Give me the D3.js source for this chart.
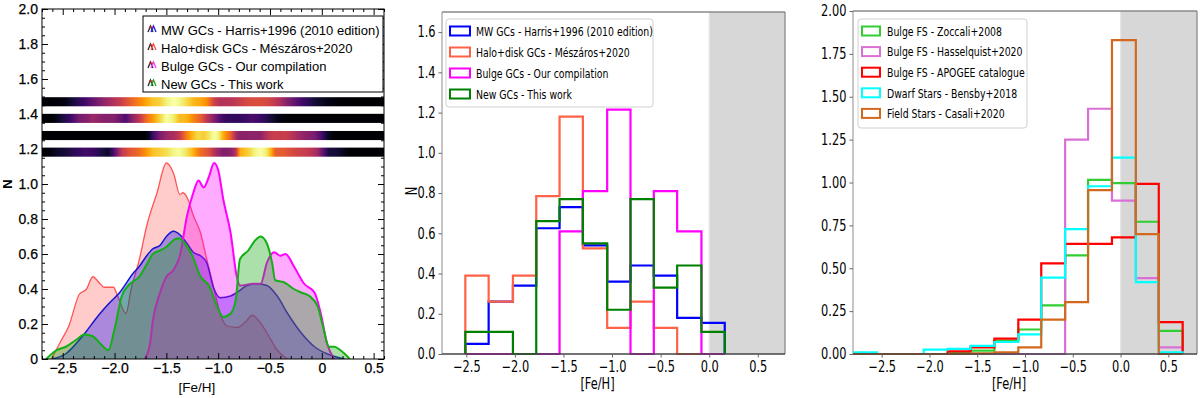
<!DOCTYPE html>
<html><head><meta charset="utf-8">
<script src="https://cdn.jsdelivr.net/npm/d3@7"></script>
<style>body{margin:0;background:#fff;} svg{display:block;}</style>
</head><body><svg id="c" width="1200" height="398"></svg>
<script>
// ---------------- DATA ----------------
// Panel 1: density curves ([Fe/H] sample points and N values)
const haloX = [-2.61,-2.52,-2.44,-2.34,-2.27,-2.21,-2.14,-2.10,-2.01,-1.97,-1.89,-1.84,-1.76,-1.69,-1.59,-1.50,-1.43,-1.37,-1.34,-1.29,-1.24,-1.17,-1.11,-1.04,-0.98,-0.92,-0.82,-0.74,-0.67,-0.61,-0.53,-0.43,-0.33];
const haloY = [0,0.10,0.19,0.37,0.40,0.47,0.43,0.41,0.41,0.36,0.26,0.40,0.57,0.76,0.95,1.12,1.06,0.94,0.95,0.91,0.82,0.72,0.57,0.40,0.26,0.19,0.18,0.21,0.25,0.22,0.15,0.05,0];
const mwX = [-2.60,-2.47,-2.31,-2.14,-2.05,-1.95,-1.82,-1.76,-1.69,-1.63,-1.56,-1.50,-1.43,-1.37,-1.30,-1.24,-1.17,-1.11,-1.04,-0.98,-0.88,-0.82,-0.72,-0.62,-0.53,-0.43,-0.33,-0.20,-0.07,0.05,0.15,0.22];
const mwY = [0,0.03,0.13,0.26,0.32,0.38,0.49,0.53,0.59,0.63,0.65,0.70,0.73,0.71,0.66,0.61,0.59,0.55,0.40,0.35,0.36,0.38,0.42,0.43,0.42,0.36,0.26,0.15,0.07,0.03,0.01,0];
const bulgeX = [-1.71,-1.66,-1.63,-1.56,-1.50,-1.43,-1.37,-1.30,-1.24,-1.19,-1.14,-1.09,-1.04,-1.00,-0.95,-0.88,-0.82,-0.79,-0.66,-0.59,-0.53,-0.46,-0.40,-0.35,-0.27,-0.17,-0.07,-0.01,0.05,0.12];
const bulgeY = [0,0.08,0.22,0.38,0.47,0.51,0.59,0.82,0.95,1.02,0.98,1.04,1.12,1.08,0.91,0.72,0.47,0.42,0.43,0.43,0.55,0.61,0.59,0.60,0.53,0.43,0.38,0.26,0.09,0];
const newX = [-2.66,-2.56,-2.47,-2.37,-2.29,-2.21,-2.14,-2.06,-2.00,-1.93,-1.85,-1.76,-1.69,-1.63,-1.56,-1.50,-1.43,-1.38,-1.32,-1.25,-1.17,-1.09,-1.01,-0.95,-0.88,-0.83,-0.79,-0.71,-0.64,-0.59,-0.53,-0.48,-0.45,-0.37,-0.27,-0.20,-0.12,-0.04,0.01,0.07,0.12,0.18,0.27];
const newY = [0,0.05,0.07,0.11,0.14,0.13,0.09,0.05,0.17,0.36,0.43,0.47,0.54,0.60,0.62,0.64,0.68,0.69,0.66,0.59,0.47,0.42,0.30,0.24,0.26,0.34,0.57,0.62,0.68,0.70,0.66,0.55,0.45,0.44,0.40,0.38,0.36,0.30,0.19,0.07,0.07,0.05,0];
const gcLabels = ["MW GCs - Harris+1996 (2010 edition)","Halo+disk GCs - Mészáros+2020","Bulge GCs - Our compilation","New GCs - This work"];

// Panel 2: GC histograms
const gcEdges = [-2.51,-2.27,-2.02,-1.78,-1.54,-1.30,-1.05,-0.81,-0.57,-0.33,-0.08,0.16];
const mwHist    = [0.05,0.26,0.34,0.625,0.73,0.54,0.36,0.44,0.39,0.18,0.155];
const haloHist  = [0.39,0.26,0.39,0.785,1.18,0.525,0.13,0.26,0.13,0,0];
const bulgeHist = [0,0,0,0,0.61,0.81,1.215,0,0.81,0.61,0];
const newHist   = [0.11,0.11,0,0.66,0.77,0.55,0.22,0.77,0.33,0.44,0.11];

// Panel 3: field-star histograms
const fsEdges = [-2.80,-2.55,-2.31,-2.06,-1.81,-1.57,-1.32,-1.07,-0.83,-0.58,-0.34,-0.09,0.16,0.40,0.65];
const zoccaliHist     = [0,0,0,0,0.005,0.02,0.078,0.143,0.284,0.575,1.015,0.996,0.771,0.135];
const hasselquistHist = [0,0,0,0,0,0,0,0,0,1.25,1.43,0.894,0.442,0.039];
const apogeeHist      = [0,0,0,0,0.015,0.039,0.09,0.2,0.528,0.642,0.642,0.68,0.992,0.186];
const bensbyHist      = [0.01,0,0,0.025,0.03,0.047,0.07,0.115,0.445,0.728,0.978,1.145,0.419,0.01];
const casaliHist      = [0,0,0,0,0,0.004,0.01,0.039,0.2,0.303,0.955,1.83,0.699,0];
const fsLabels = ["Bulge FS - Zoccali+2008","Bulge FS - Hasselquist+2020","Bulge FS - APOGEE catalogue","Dwarf Stars - Bensby+2018","Field Stars - Casali+2020"];

const ticks1X = [-2.5,-2.0,-1.5,-1.0,-0.5,0,0.5];
const ticks1Y = [0,0.2,0.4,0.6,0.8,1.0,1.2,1.4,1.6,1.8,2.0];
const ticks2Y = [0,0.2,0.4,0.6,0.8,1.0,1.2,1.4,1.6];
const ticks3Y = [0,0.25,0.5,0.75,1.0,1.25,1.5,1.75,2.0];

// ---------------- DRAW ----------------
const svg = d3.select("#c");
const defs = svg.append("defs");
const SX = 0.76; // horizontal squeeze of matplotlib panels' text
const mplFont = "'DejaVu Sans', sans-serif";
const idlFont = "'Liberation Sans', Arial, sans-serif";

function stxt(g, x, y, s, size, anchor, sx) {
  return g.append("text").attr("transform", `translate(${x},${y}) scale(${sx},1)`)
    .attr("text-anchor", anchor).attr("font-size", size).attr("font-family", mplFont)
    .attr("fill", "#000").text(s);
}

// ===== Panel 1 =====
const x1 = d3.scaleLinear().domain([-2.7, 0.6]).range([42, 384]);
const y1 = d3.scaleLinear().domain([0, 2]).range([359, 9]);
const p1 = svg.append("g");
defs.append("clipPath").attr("id","clip1").append("rect")
  .attr("x",x1.range()[0]).attr("y",y1.range()[1]).attr("width",x1.range()[1]-x1.range()[0]).attr("height",y1.range()[0]-y1.range()[1]);

const dens = [
  {x: haloX, y: haloY, fill:"#ff3030", fo:0.25, stroke:"#ff5555", sw:1.3},
  {x: mwX, y: mwY, fill:"#0000ff", fo:0.33, stroke:"#1515cc", sw:1.5},
  {x: bulgeX, y: bulgeY, fill:"#ff00ff", fo:0.33, stroke:"#ff00ff", sw:2},
  {x: newX, y: newY, fill:"#00a000", fo:0.33, stroke:"#12b012", sw:2}
];
const area1 = d3.area().x(d=>x1(d[0])).y0(y1(0)).y1(d=>y1(d[1])).curve(d3.curveMonotoneX);
const line1 = d3.line().x(d=>x1(d[0])).y(d=>y1(d[1])).curve(d3.curveMonotoneX);
const cg = p1.append("g").attr("clip-path","url(#clip1)");
dens.forEach(s => {
  const pts = s.x.map((v,i)=>[v, s.y[i]]);
  cg.append("path").attr("d", area1(pts)).attr("fill", s.fill).attr("fill-opacity", s.fo);
  cg.append("path").attr("d", line1(pts)).attr("fill","none").attr("stroke", s.stroke).attr("stroke-width", s.sw);
});

// colour bars (density mapped with inferno), order: MW, Halo, Bulge, New
function interpDens(xs, ys, v) {
  if (v <= xs[0] || v >= xs[xs.length-1]) return 0;
  const i = d3.bisectRight(xs, v);
  const t = (v - xs[i-1]) / (xs[i] - xs[i-1]);
  return ys[i-1] + t*(ys[i]-ys[i-1]);
}
const barSeries = [[mwX,mwY],[haloX,haloY],[bulgeX,bulgeY],[newX,newY]];
const barLevels = [1.47, 1.375, 1.277, 1.182];
barSeries.forEach((s, k) => {
  const mx = d3.max(s[1]);
  const gid = "grad" + k;
  const gr = defs.append("linearGradient").attr("id", gid).attr("gradientUnits","userSpaceOnUse")
    .attr("x1", x1.range()[0]).attr("x2", x1.range()[1]).attr("y1",0).attr("y2",0);
  const n = 200;
  for (let j = 0; j <= n; j++) {
    const v = x1.domain()[0] + (x1.domain()[1]-x1.domain()[0]) * j / n;
    const d = interpDens(s[0], s[1], v) / mx;
    gr.append("stop").attr("offset", (j/n*100)+"%").attr("stop-color", d3.interpolateInferno(Math.min(1, d)));
  }
  p1.append("rect").attr("x", x1.range()[0]).attr("width", x1.range()[1]-x1.range()[0])
    .attr("y", y1(barLevels[k] + 0.026)).attr("height", y1(barLevels[k]-0.026) - y1(barLevels[k]+0.026))
    .attr("fill", `url(#${gid})`);
});

// axes panel 1 (inward ticks, all sides)
const fmt1 = d => d === 0 ? "0" : d3.format(".1f")(d);
const minor1X = d3.range(-27, 7).map(d=>d/10).filter(d => !ticks1X.some(t=>Math.abs(t-d)<1e-6));
const minor1Y = d3.range(0, 41).map(d=>d/20).filter(d => !ticks1Y.some(t=>Math.abs(t-d)<1e-6));
function ax(g, axis) { g.call(axis); g.select(".domain").remove(); g.selectAll("line").attr("stroke","#000"); return g; }
const b1 = ax(p1.append("g").attr("transform",`translate(0,${y1(0)})`), d3.axisBottom(x1).tickValues(ticks1X).tickFormat(fmt1).tickSize(-6).tickPadding(4));
ax(p1.append("g").attr("transform",`translate(0,${y1(0)})`), d3.axisBottom(x1).tickValues(minor1X).tickFormat("").tickSize(-3));
ax(p1.append("g").attr("transform",`translate(0,${y1(2)})`), d3.axisTop(x1).tickValues(ticks1X).tickFormat("").tickSize(-6));
ax(p1.append("g").attr("transform",`translate(0,${y1(2)})`), d3.axisTop(x1).tickValues(minor1X).tickFormat("").tickSize(-3));
const l1 = ax(p1.append("g").attr("transform",`translate(${x1.range()[0]},0)`), d3.axisLeft(y1).tickValues(ticks1Y).tickFormat(fmt1).tickSize(-6).tickPadding(4));
ax(p1.append("g").attr("transform",`translate(${x1.range()[0]},0)`), d3.axisLeft(y1).tickValues(minor1Y).tickFormat("").tickSize(-3));
ax(p1.append("g").attr("transform",`translate(${x1.range()[1]},0)`), d3.axisRight(y1).tickValues(ticks1Y).tickFormat("").tickSize(-6));
ax(p1.append("g").attr("transform",`translate(${x1.range()[1]},0)`), d3.axisRight(y1).tickValues(minor1Y).tickFormat("").tickSize(-3));
[b1, l1].forEach(g => g.selectAll("text").attr("font-family", idlFont).attr("font-size", 14).attr("fill","#000").attr("stroke","#000").attr("stroke-width",0.25));
p1.append("rect").attr("x", x1.range()[0]).attr("y", y1.range()[1]).attr("width", x1.range()[1]-x1.range()[0]).attr("height", y1.range()[0]-y1.range()[1])
  .attr("fill","none").attr("stroke","#000").attr("stroke-width",1);
p1.append("text").attr("x", (x1.range()[0]+x1.range()[1])/2 - 16).attr("y", 392).attr("text-anchor","middle")
  .attr("font-family", idlFont).attr("font-size", 13.5).text("[Fe/H]");
p1.append("text").attr("transform","translate(12,184) rotate(-90)").attr("text-anchor","middle")
  .attr("font-family", idlFont).attr("font-size", 13).attr("font-weight","bold").text("N");

// legend panel 1
const lg1 = p1.append("g");
lg1.append("rect").attr("x",143).attr("y",16).attr("width",240).attr("height",76).attr("fill","#fff").attr("stroke","#000").attr("stroke-width",1);
const iconCols = ["#2020ff","#ff5555","#ff40ff","#20b020"];
gcLabels.forEach((s, i) => {
  const cy = 30 + i*18;
  const ig = lg1.append("g").attr("transform",`translate(148,${cy-4})`);
  ig.append("path").attr("d","M0,6 L2.5,0 L5,6").attr("fill","none").attr("stroke","#333").attr("stroke-width",1.4);
  ig.append("path").attr("d","M3,6 L5.5,0 L8,6").attr("fill","none").attr("stroke",iconCols[i]).attr("stroke-width",1.4);
  ig.append("path").attr("d","M1,1 L5,1").attr("stroke","#e03030").attr("stroke-width",1.2);
  lg1.append("text").attr("x",161).attr("y",cy+5).attr("font-family", idlFont).attr("font-size",13).text(s);
});

// ===== Histogram panels =====
function stepPath(edges, vals, x, y) {
  const p = d3.path();
  p.moveTo(x(edges[0]), y(0));
  vals.forEach((v,i) => { p.lineTo(x(edges[i]), y(v)); p.lineTo(x(edges[i+1]), y(v)); });
  p.lineTo(x(edges[edges.length-1]), y(0));
  return p.toString();
}
function histPanel(opt) {
  const {x, y, edges, series, yTicks, yFmt, id, legend, showN} = opt;
  const g = svg.append("g");
  const [xl, xr] = x.range(); const [yb, yt] = y.range();
  defs.append("clipPath").attr("id", id).append("rect").attr("x", xl).attr("y", yt - 2).attr("width", xr - xl).attr("height", yb - yt + 4);
  g.append("rect").attr("x", x(0)).attr("y", yt).attr("width", xr - x(0)).attr("height", yb - yt).attr("fill", "#d7d7d7");
  g.append("line").attr("x1", x(0)).attr("x2", x(0)).attr("y1", yt).attr("y2", yb).attr("stroke", "#e6e6e6").attr("stroke-width", 1.2);
  const hg = g.append("g").attr("clip-path", `url(#${id})`);
  series.forEach(s => {
    hg.append("path").attr("d", stepPath(edges, s.v, x, y)).attr("fill","none").attr("stroke", s.c).attr("stroke-width", 2.2).attr("stroke-linejoin","miter");
  });
  // spines
  g.append("line").attr("x1",xl).attr("x2",xl).attr("y1",yt).attr("y2",yb).attr("stroke","#a8a8a8").attr("stroke-width",1.3);
  g.append("line").attr("x1",xr).attr("x2",xr).attr("y1",yt).attr("y2",yb).attr("stroke","#8a8a8a").attr("stroke-width",1.3);
  g.append("line").attr("x1",xl).attr("x2",xr).attr("y1",yt).attr("y2",yt).attr("stroke","#8a8a8a").attr("stroke-width",1.3);
  g.append("line").attr("x1",xl).attr("x2",xr).attr("y1",yb).attr("y2",yb).attr("stroke","#444").attr("stroke-width",1.3);
  // axes
  const bx = g.append("g").attr("transform",`translate(0,${yb})`).call(d3.axisBottom(x).tickValues([-2.5,-2.0,-1.5,-1.0,-0.5,0,0.5]).tickFormat(d3.format(".1f")).tickSize(3.5).tickPadding(4));
  const ly = g.append("g").attr("transform",`translate(${xl},0)`).call(d3.axisLeft(y).tickValues(yTicks).tickFormat(yFmt).tickSize(3.5).tickPadding(3));
  [bx, ly].forEach(a => { a.select(".domain").remove(); a.selectAll("line").attr("stroke","#666");
    a.selectAll("text").attr("font-family", mplFont).attr("font-size", 15).attr("fill","#000")
      .attr("transform", `scale(${SX},1)`).attr("x", function(){ return (+this.getAttribute("x") || 0) / SX; }); });
  stxt(g, (xl + xr)/2 - 16, 389, "[Fe/H]", 15, "middle", SX);
  if (showN) g.append("text").attr("transform", `translate(${xl-25},191) rotate(-90) scale(${SX},1)`).attr("text-anchor","middle")
      .attr("font-family", mplFont).attr("font-size", 15).text("N");
  // legend
  const L = legend;
  g.append("rect").attr("x", L.x).attr("y", L.y).attr("width", L.w).attr("height", L.h).attr("rx", 3)
    .attr("fill","#fff").attr("fill-opacity",0.85).attr("stroke","#d0d0d0").attr("stroke-width",1);
  series.forEach((s, i) => {
    const cy = L.y + 12 + i * L.step;
    g.append("rect").attr("x", L.x + 4).attr("y", cy - 4.5).attr("width", L.pw).attr("height", 9)
      .attr("fill","none").attr("stroke", s.c).attr("stroke-width", 2);
    stxt(g, L.x + L.tx, cy + 4.8, s.label, 13, "start", 0.72);
  });
}

const x2 = d3.scaleLinear().domain([-2.75, 0.78]).range([442, 785]);
const y2 = d3.scaleLinear().domain([0, 1.7]).range([354, 12]);
histPanel({x: x2, y: y2, edges: gcEdges, id: "clip2", showN: true,
  yTicks: ticks2Y, yFmt: d3.format(".1f"),
  series: [
    {v: mwHist, c: "#0000ff", label: gcLabels[0]},
    {v: haloHist, c: "#ff6347", label: gcLabels[1]},
    {v: bulgeHist, c: "#ff00ff", label: gcLabels[2]},
    {v: newHist, c: "#008000", label: gcLabels[3]}
  ],
  legend: {x: 446, y: 19, w: 207, h: 88, step: 21, pw: 20, tx: 30}
});

const x3 = d3.scaleLinear().domain([-2.8, 0.8]).range([853, 1197]);
const y3 = d3.scaleLinear().domain([0, 2.0]).range([354, 11]);
histPanel({x: x3, y: y3, edges: fsEdges, id: "clip3", showN: false,
  yTicks: ticks3Y, yFmt: d3.format(".2f"),
  series: [
    {v: zoccaliHist, c: "#32cd32", label: fsLabels[0]},
    {v: hasselquistHist, c: "#da70d6", label: fsLabels[1]},
    {v: apogeeHist, c: "#ff0000", label: fsLabels[2]},
    {v: bensbyHist, c: "#00ffff", label: fsLabels[3]},
    {v: casaliHist, c: "#d2691e", label: fsLabels[4]}
  ],
  legend: {x: 858, y: 19, w: 169, h: 109, step: 20.6, pw: 18, tx: 29}
});
</script></body></html>
